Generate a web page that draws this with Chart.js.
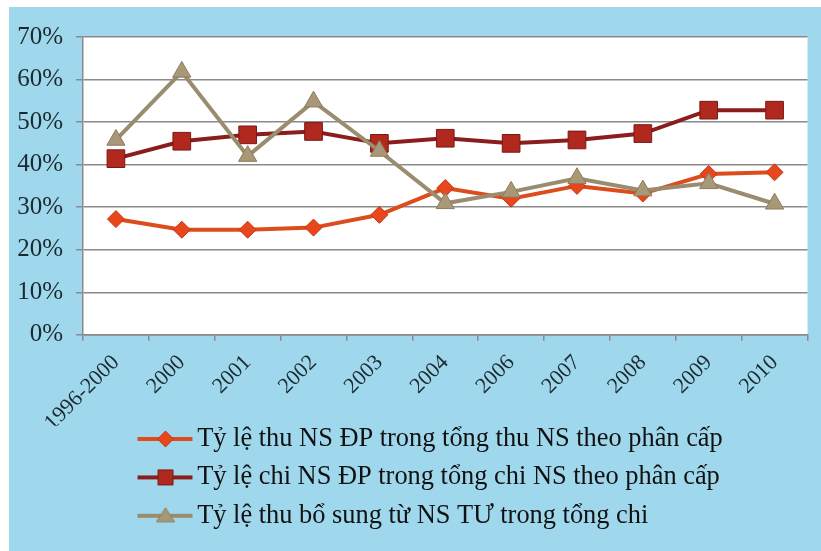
<!DOCTYPE html>
<html>
<head>
<meta charset="utf-8">
<script src="https://cdn.jsdelivr.net/npm/chart.js@4/dist/chart.umd.min.js"></script>
<style>
html, body { margin: 0; padding: 0; background: #fff; }
#khung { position: absolute; left: 9px; top: 7px; width: 812px; height: 544px; background: #9fd8ec; }
</style>
</head>
<body>
<div id="khung"><canvas id="bieuDo" width="812" height="544"></canvas></div>
<script>
const nam = ["1996-2000", "2000", "2001", "2002", "2003", "2004", "2006", "2007", "2008", "2009", "2010"];
const tyLeThu = [27.2, 24.7, 24.7, 25.2, 28.2, 34.5, 32.0, 35.0, 33.2, 37.8, 38.2];
const tyLeChi = [41.4, 45.5, 47.0, 47.8, 45.0, 46.2, 45.0, 45.8, 47.3, 52.8, 52.8];
const tyLeBoSung = [45.8, 61.8, 42.0, 54.8, 43.2, 30.9, 33.6, 36.8, 33.9, 35.6, 30.8];
const moc = [0, 10, 20, 30, 40, 50, 60, 70];

const tenChuoi = [
    "Tỷ lệ thu NS ĐP trong tổng thu NS theo phân cấp",
    "Tỷ lệ chi NS ĐP trong tổng chi NS theo phân cấp",
    "Tỷ lệ thu bổ sung từ NS TƯ trong tổng chi"
];

const phong = "'Liberation Serif', 'Times New Roman', serif";
const mauChu = "#1c2a30";
const mauLuoi = "#8a8a8a";

// bieu tuong chu giai: doan thang + dau diem (phan trai de trong)
function veBieuTuong(duong, nen, vien, kieu) {
    const c = document.createElement("canvas");
    c.width = 184; c.height = 24;
    const g = c.getContext("2d");
    g.strokeStyle = duong; g.lineWidth = 4;
    g.beginPath(); g.moveTo(127, 12); g.lineTo(182, 12); g.stroke();
    g.fillStyle = nen; g.strokeStyle = vien; g.lineWidth = 1;
    const x = 155, y = 12;
    g.beginPath();
    if (kieu === "thoi") {
        g.moveTo(x, y - 8); g.lineTo(x + 8, y); g.lineTo(x, y + 8); g.lineTo(x - 8, y);
    } else if (kieu === "vuong") {
        g.rect(x - 7.5, y - 7.5, 15, 15);
    } else {
        g.moveTo(x, y - 8); g.lineTo(x + 9, y + 6); g.lineTo(x - 9, y + 6);
    }
    g.closePath(); g.fill(); g.stroke();
    return c;
}

const bieuTuong = [
    veBieuTuong("#dc4d1e", "#e8461c", "#c23a12", "thoi"),
    veBieuTuong("#8c1d1d", "#b0281e", "#7a1818", "vuong"),
    veBieuTuong("#9a8c6e", "#a89878", "#8c7c5c", "tamgiac")
];

const nenTrang = {
    id: "nenTrang",
    beforeDraw(chart) {
        const { ctx, chartArea: a } = chart;
        ctx.save();
        ctx.fillStyle = "#fff";
        ctx.fillRect(a.left, a.top, a.right - a.left, a.bottom - a.top);
        ctx.restore();
    }
};

// dua chu giai len sat nhan truc x
const dichChuGiai = {
    id: "dichChuGiai",
    afterLayout(chart) {
        chart.legend.top -= 12;
        chart.legend.bottom -= 12;
    }
};

function veBieuDo() {
    const ctx = document.getElementById("bieuDo").getContext("2d");
    new Chart(ctx, {
        type: "line",
        data: {
            labels: nam,
            datasets: [
                {
                    label: tenChuoi[0], data: tyLeThu, order: 3,
                    borderColor: "#dc4d1e", borderWidth: 4,
                    pointStyle: "rectRot", pointRadius: 8.5, pointBackgroundColor: "#e8461c",
                    pointBorderColor: "#c23a12", pointBorderWidth: 1
                },
                {
                    label: tenChuoi[1], data: tyLeChi, order: 2,
                    borderColor: "#8c1d1d", borderWidth: 4,
                    pointStyle: "rect", pointRadius: 12.5, pointBackgroundColor: "#b0281e",
                    pointBorderColor: "#7a1818", pointBorderWidth: 1
                },
                {
                    label: tenChuoi[2], data: tyLeBoSung, order: 1,
                    borderColor: "#9a8c6e", borderWidth: 4,
                    pointStyle: "triangle", pointRadius: 10.5, pointBackgroundColor: "#a89878",
                    pointBorderColor: "#8c7c5c", pointBorderWidth: 1
                }
            ]
        },
        options: {
            responsive: false,
            animation: false,
            layout: { padding: { left: 0, right: 13, top: 30, bottom: 0 } },
            elements: { line: { tension: 0 } },
            plugins: {
                tooltip: { enabled: false },
                legend: {
                    position: "bottom",
                    align: "start",
                    labels: {
                        usePointStyle: true,
                        pointStyleWidth: 163,
                        padding: 12,
                        color: "#111",
                        font: { family: phong, size: 26.4 },
                        sort: (a, b) => a.datasetIndex - b.datasetIndex,
                        generateLabels(chart) {
                            const ds = Chart.defaults.plugins.legend.labels.generateLabels(chart);
                            ds.forEach(it => { it.pointStyle = bieuTuong[it.datasetIndex]; });
                            return ds;
                        }
                    }
                }
            },
            scales: {
                x: {
                    offset: true,
                    afterFit(s) { s.height = 91; },
                    grid: { offset: true, drawOnChartArea: false, drawTicks: true, tickLength: 6, color: mauLuoi, lineWidth: 1.5 },
                    border: { color: mauLuoi, width: 1.5 },
                    ticks: {
                        autoSkip: false, minRotation: 45, maxRotation: 45, padding: 9,
                        color: mauChu, font: { family: phong, size: 22 }
                    }
                },
                y: {
                    min: 0, max: 70,
                    afterFit(s) { s.width = 74; },
                    afterBuildTicks(s) { s.ticks = moc.map(v => ({ value: v })); },
                    grid: { color: mauLuoi, lineWidth: 1.5, tickLength: 7 },
                    border: { color: mauLuoi, width: 1.5 },
                    ticks: {
                        padding: 13, color: mauChu,
                        font: { family: phong, size: 25 },
                        callback: v => v + "%"
                    }
                }
            }
        },
        plugins: [nenTrang, dichChuGiai]
    });
}

document.fonts.load("24px 'Liberation Serif'").then(veBieuDo, veBieuDo);
</script>
</body>
</html>
